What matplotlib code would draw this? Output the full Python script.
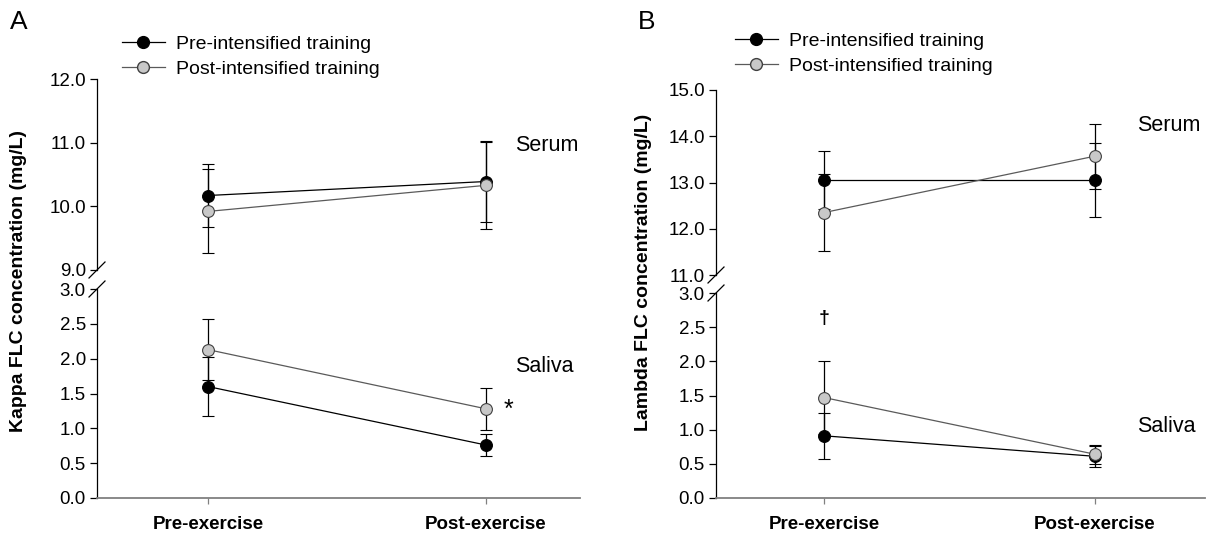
import matplotlib
matplotlib.use("Agg")
import matplotlib.pyplot as plt
from matplotlib.lines import Line2D

plt.rcParams['font.family'] = ['Liberation Sans', 'DejaVu Sans']

# ---------------- data ----------------
timepoints = ["Pre-exercise", "Post-exercise"]
series_labels = ["Pre-intensified training", "Post-intensified training"]

# Panel A: Kappa FLC (mg/L)
kappa_serum_pre = [10.17, 10.39]
kappa_serum_pre_err = [0.49, 0.63]
kappa_serum_post = [9.92, 10.33]
kappa_serum_post_err = [0.66, 0.68]
kappa_saliva_pre = [1.60, 0.76]
kappa_saliva_pre_err = [0.42, 0.16]
kappa_saliva_post = [2.13, 1.28]
kappa_saliva_post_err = [0.44, 0.30]

# Panel B: Lambda FLC (mg/L)
lambda_serum_pre = [13.06, 13.06]
lambda_serum_pre_err = [0.63, 0.80]
lambda_serum_post = [12.35, 13.57]
lambda_serum_post_err = [0.84, 0.70]
lambda_saliva_pre = [0.91, 0.61]
lambda_saliva_pre_err = [0.34, 0.15]
lambda_saliva_post = [1.47, 0.64]
lambda_saliva_post_err = [0.54, 0.14]

kappa_top_ticks = [9.0, 10.0, 11.0, 12.0]
lambda_top_ticks = [11.0, 12.0, 13.0, 14.0, 15.0]
saliva_ticks = [0.0, 0.5, 1.0, 1.5, 2.0, 2.5, 3.0]

# ---------------- figure ----------------
W, H = 1214, 537
fig = plt.figure(figsize=(W / 100, H / 100), dpi=100)


def fr(x0, x1, ytop, ybot):
    return [x0 / W, 1 - ybot / H, (x1 - x0) / W, (ybot - ytop) / H]


BLACK_LINE = "black"
GREY_LINE = "#5a5a5a"
GREY_FACE = "#c8c8c8"
TICK_FS = 13.5
AXIS_GREY = "#808080"

x = list(range(len(timepoints)))


def plot_series(ax, pre, pre_err, post, post_err):
    ax.errorbar(x, pre, yerr=pre_err, color=BLACK_LINE, lw=0.9,
                marker="o", ms=8.5, mfc="black", mec="black", mew=0.8,
                ecolor="black", elinewidth=0.9, capsize=4.5, capthick=0.9,
                zorder=3, clip_on=False)
    ax.errorbar(x, post, yerr=post_err, color=GREY_LINE, lw=0.9,
                marker="o", ms=8.5, mfc=GREY_FACE, mec="#404040", mew=0.8,
                ecolor="black", elinewidth=0.9, capsize=4.5, capthick=0.9,
                zorder=4, clip_on=False)


def style_top(ax, ylim, ticks, xlim):
    ax.set_xlim(*xlim)
    ax.set_ylim(*ylim)
    ax.set_yticks(ticks)
    ax.set_yticklabels([f"{t:.1f}" for t in ticks], fontsize=TICK_FS)
    ax.set_xticks([])
    for s in ["top", "right", "bottom"]:
        ax.spines[s].set_visible(False)
    ax.spines["left"].set_linewidth(0.9)
    ax.tick_params(axis="y", direction="out", length=5, width=0.9, pad=3)
    ax.patch.set_alpha(0)


def style_bottom(ax, xlim):
    ax.set_xlim(*xlim)
    ax.set_ylim(0, 3.0)
    ax.set_yticks(saliva_ticks)
    ax.set_yticklabels([f"{t:.1f}" for t in saliva_ticks], fontsize=TICK_FS)
    ax.set_xticks(x)
    ax.set_xticklabels(timepoints, fontsize=13.5, fontweight="bold")
    for s in ["top", "right"]:
        ax.spines[s].set_visible(False)
    ax.spines["left"].set_linewidth(0.9)
    ax.spines["bottom"].set_linewidth(1.3)
    ax.spines["bottom"].set_color(AXIS_GREY)
    ax.tick_params(axis="y", direction="out", length=5, width=0.9, pad=3)
    ax.tick_params(axis="x", direction="out", length=4, width=0.9,
                   color=AXIS_GREY, pad=9)
    ax.patch.set_alpha(0)


def break_marks(ax, yfrac):
    # small diagonal slash across the y spine, in axes coordinates
    bb = ax.get_position()
    dx = 8 / (bb.width * W)
    dy = 8 / (bb.height * H)
    ax.plot([-dx, dx], [yfrac - dy, yfrac + dy], transform=ax.transAxes,
            color="black", lw=0.9, clip_on=False)


# ---------------- Panel A ----------------
xlimA = (-0.399, 1.338)
axA_top = fig.add_axes(fr(97, 580, 79, 270))
axA_bot = fig.add_axes(fr(97, 580, 289, 498))
plot_series(axA_top, kappa_serum_pre, kappa_serum_pre_err,
            kappa_serum_post, kappa_serum_post_err)
plot_series(axA_bot, kappa_saliva_pre, kappa_saliva_pre_err,
            kappa_saliva_post, kappa_saliva_post_err)
style_top(axA_top, (9.0, 12.0), kappa_top_ticks, xlimA)
style_bottom(axA_bot, xlimA)
break_marks(axA_top, 0.0)
break_marks(axA_bot, 1.0)
axA_top.text(1.104, 10.96, "Serum", fontsize=15.5, va="center", ha="left")
axA_bot.text(1.104, 1.89, "Saliva", fontsize=15.5, va="center", ha="left")
axA_bot.text(1.065, 1.26, "*", fontsize=18, va="center", ha="left")

# ---------------- Panel B ----------------
xlimB = (-0.399, 1.406)
axB_top = fig.add_axes(fr(716, 1205, 90, 275))
axB_bot = fig.add_axes(fr(716, 1205, 293, 498))
plot_series(axB_top, lambda_serum_pre, lambda_serum_pre_err,
            lambda_serum_post, lambda_serum_post_err)
plot_series(axB_bot, lambda_saliva_pre, lambda_saliva_pre_err,
            lambda_saliva_post, lambda_saliva_post_err)
style_top(axB_top, (11.0, 15.0), lambda_top_ticks, xlimB)
style_bottom(axB_bot, xlimB)
break_marks(axB_top, 0.0)
break_marks(axB_bot, 1.0)
axB_top.text(1.155, 14.24, "Serum", fontsize=15.5, va="center", ha="left")
axB_bot.text(1.155, 1.04, "Saliva", fontsize=15.5, va="center", ha="left")
axB_bot.text(0.0, 2.62, "\u2020", fontsize=14, va="center", ha="center",
             fontweight="bold")

# ---------------- labels / legends ----------------
fig.text(19 / W, 1 - 281 / H, "Kappa FLC concentration (mg/L)", rotation=90,
         ha="center", va="center", fontsize=14, fontweight="bold")
fig.text(643 / W, 1 - 272 / H, "Lambda FLC concentration (mg/L)", rotation=90,
         ha="center", va="center", fontsize=14, fontweight="bold")
fig.text(10 / W, 1 - 22 / H, "A", fontsize=19, ha="left", va="center")
fig.text(638 / W, 1 - 22 / H, "B", fontsize=19, ha="left", va="center")

handles = [
    Line2D([], [], color=BLACK_LINE, lw=0.9, marker="o", ms=8.5,
           mfc="black", mec="black"),
    Line2D([], [], color=GREY_LINE, lw=0.9, marker="o", ms=8.5,
           mfc=GREY_FACE, mec="#404040"),
]
for (lx, ly) in [(122 / W, 1 - 35 / H), (735 / W, 1 - 32 / H)]:
    fig.legend(handles, series_labels, loc="upper left",
               bbox_to_anchor=(lx, ly), frameon=False, fontsize=14,
               handlelength=2.2, handletextpad=0.6, labelspacing=0.38,
               borderaxespad=0, borderpad=0)

fig.savefig("out.png", dpi=100)
